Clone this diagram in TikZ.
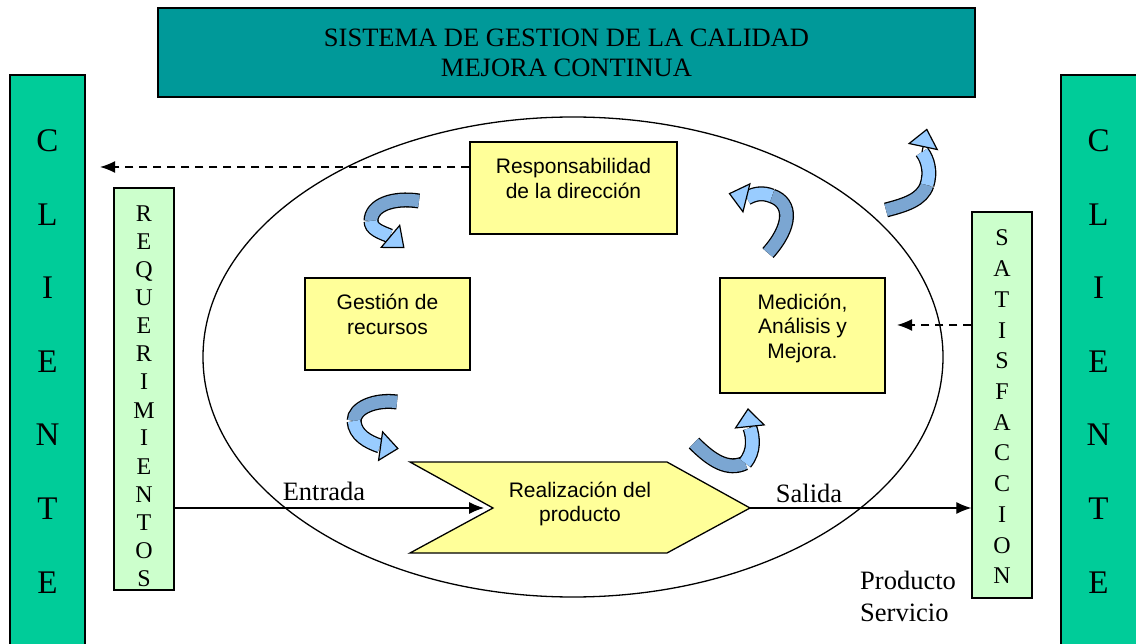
\documentclass[tikz,border=0pt]{standalone}
\usepackage{fontspec}
\setmainfont{Liberation Serif}
\setsansfont{Liberation Sans}
\usetikzlibrary{arrows.meta}
\definecolor{petrol}{HTML}{009999}
\definecolor{verdecli}{HTML}{00CC99}
\definecolor{menta}{HTML}{CCFFCC}
\definecolor{crema}{HTML}{FFFF99}
\definecolor{azulc}{HTML}{99CCFF}
\definecolor{azulo}{HTML}{7BA6D2}
\begin{document}
\begin{tikzpicture}[x=1pt,y=-1pt,
	caja/.style={draw,line width=1.3pt,inner sep=0pt},
	stxt/.style={font=\sffamily\fontsize{21}{24.5}\selectfont,align=center,inner sep=0pt},
	rtxt/.style={font=\fontsize{26.5}{30}\selectfont,inner sep=0pt},
	letra/.style={font=\fontsize{24}{24}\selectfont,inner sep=0pt,text height=16pt,text depth=0pt},
	cli/.style={font=\fontsize{33}{33}\selectfont,inner sep=0pt,text height=22pt,text depth=0pt},
	flujo/.style={line width=1.2pt,-{Latex[length=15pt,width=12pt]}},
	punteado/.style={flujo,line width=1.5pt,dash pattern=on 8pt off 6pt},
	banda/.style={line width=15pt,draw=black},
	relleno/.style={line width=12.4pt,draw=#1},
	cabeza/.style={line width=1.2pt,-{Triangle[length=19pt,width=31pt,fill=azulc]}}]
	\useasboundingbox (0,0) rectangle (1136,644);
	% ciclo
	\draw[line width=1.3pt] (573,357) ellipse [x radius=370pt, y radius=240pt];
	% cajas
	\node[caja,fill=petrol,minimum width=817pt,minimum height=89pt,rtxt,align=center] (sgc) at (566.5,52.5)
		{SISTEMA DE GESTION DE LA CALIDAD\\MEJORA CONTINUA};
	\draw[caja,fill=verdecli] (10,75) rectangle (85,650);
	\draw[caja,fill=verdecli] (1061,75) rectangle (1140,650);
	\node[caja,fill=menta,minimum width=60pt,minimum height=402pt] (req) at (144,389) {};
	\node[caja,fill=menta,minimum width=60pt,minimum height=386pt] (sat) at (1002,405) {};
	\node[caja,fill=crema,minimum width=207pt,minimum height=92pt] (resp) at (573.5,188) {};
	\node[caja,fill=crema,minimum width=165pt,minimum height=92pt] (rec) at (387.5,324) {};
	\node[caja,fill=crema,minimum width=165pt,minimum height=115pt] (med) at (802.5,335.5) {};
	\coordinate (muesca) at (493,508);
	\coordinate (pico) at (750,508);
	\draw[caja,fill=crema] (410,462) -- (667,462) -- (pico) -- (667,553) -- (410,553) -- (muesca) -- cycle;
	% textos
	\node[stxt] (resptxt) at (573.5,178.5) {Responsabilidad\\de la dirección};
	\node[stxt] (rectxt) at (387.5,314.5) {Gestión de\\recursos};
	\node[stxt] (medtxt) at (802.5,328) {Medición,\\Análisis y\\Mejora.};
	\node[stxt] (realiz) at (580,504) {Realización del\\producto};
	\foreach \l [count=\i] in {C,L,I,E,N,T,E}{
		\node[cli] (cl\i) at (47.5,{141+73.5*(\i-1)}) {\l};
		\node[cli] (cr\i) at (1098.5,{141+73.5*(\i-1)}) {\l};}
	\foreach \l [count=\i] in {R,E,Q,U,E,R,I,M,I,E,N,T,O,S}
		\node[letra] (rq\i) at (144,{214+28*(\i-1)}) {\l};
	\foreach \l [count=\i] in {S,A,T,I,S,F,A,C,C,I,O,N}
		\node[letra] (st\i) at (1002,{238+30.7*(\i-1)}) {\l};
	\node[rtxt] (ent) at (324,491) {Entrada};
	\node[rtxt] (sal) at (809,493) {Salida};
	\node[rtxt,align=left,anchor=north west,font=\fontsize{26.5}{32}\selectfont] (prod) at (860,571) {Producto\\Servicio};
	% flechas
	\draw[flujo,shorten >=9pt] (req.east |- muesca) -- (muesca);
	\draw[flujo] (pico) -- (pico -| sat.west);
	\coordinate (izq) at (100,167);
	\coordinate (der) at (897,325);
	\draw[punteado] (resp.west |- izq) -- (izq);
	\draw[punteado] (sat.west |- der) -- (der);
	% flechas curvas
	\draw[banda] (419,201) .. controls (393,197) and (371,205) .. (371,221);
	\draw[relleno=azulo] (419,201) .. controls (393,197) and (371,205) .. (371,221);
	\draw[banda] (371,221) .. controls (371,229) and (380,232) .. (390,236);
	\draw[relleno=azulc] (371,221) .. controls (371,229) and (380,232) .. (390,236);
	\draw[cabeza] (390,236) -- ++(-40:19pt);
	\draw[banda] (768,253) .. controls (792,226) and (792,203) .. (772,196);
	\draw[relleno=azulo] (768,253) .. controls (792,226) and (792,203) .. (772,196);
	\draw[banda] (772,196) .. controls (762,192) and (754,194) .. (747,198);
	\draw[relleno=azulc] (772,196) .. controls (762,192) and (754,194) .. (747,198);
	\draw[cabeza] (747,198) -- ++(166:19pt);
	\draw[banda] (886,210) .. controls (905,205) and (922,200) .. (927,185);
	\draw[relleno=azulo] (886,210) .. controls (905,205) and (922,200) .. (927,185);
	\draw[banda] (927,185) .. controls (931,172) and (928,160) .. (922,152);
	\draw[relleno=azulc] (927,185) .. controls (931,172) and (928,160) .. (922,152);
	\draw[cabeza] (922,152) -- ++(78:24pt);
	\draw[banda] (397,402) .. controls (375,399) and (354,408) .. (354,421);
	\draw[relleno=azulo] (397,402) .. controls (375,399) and (354,408) .. (354,421);
	\draw[banda] (354,421) .. controls (355,435) and (368,442) .. (380,446);
	\draw[relleno=azulc] (354,421) .. controls (355,435) and (368,442) .. (380,446);
	\draw[cabeza] (380,446) -- ++(-8:19pt);
	\draw[banda] (694,443) .. controls (712,461) and (728,471) .. (745,463);
	\draw[relleno=azulo] (694,443) .. controls (712,461) and (728,471) .. (745,463);
	\draw[banda] (745,463) .. controls (755,451) and (753,437) .. (750,428);
	\draw[relleno=azulc] (745,463) .. controls (755,451) and (753,437) .. (750,428);
	\draw[cabeza] (750,428) -- ++(96:20pt);
\end{tikzpicture}
\end{document}
